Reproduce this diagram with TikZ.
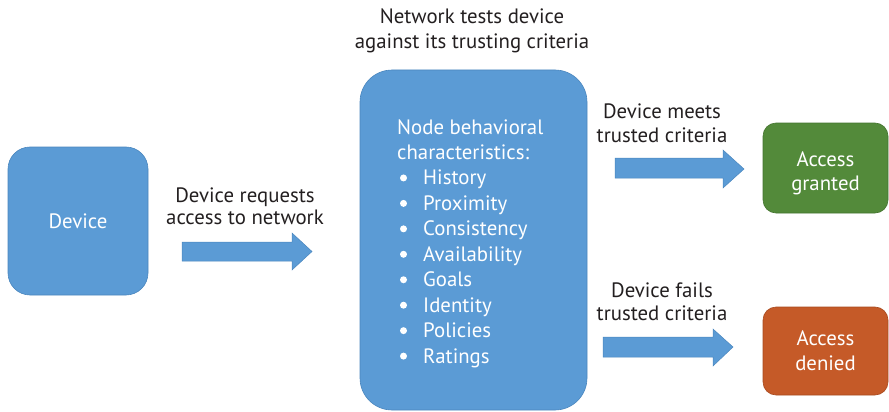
\documentclass[tikz,border=0pt]{standalone}
\usepackage{fontspec}
\setmainfont{PT Sans}
\definecolor{boxblue}{HTML}{5B9BD5}
\definecolor{blueedge}{HTML}{4A86BE}
\definecolor{okgreen}{HTML}{538A3A}
\definecolor{greenedge}{HTML}{44742F}
\definecolor{nogo}{HTML}{C55A28}
\definecolor{nogoedge}{HTML}{A84A1F}
\definecolor{ink}{HTML}{231F20}
\tikzset{
  x=1pt, y=-1pt,
  lbl/.style={text=ink, font=\fontsize{20.8}{24.5}\selectfont, align=center, inner sep=0pt},
  boxtxt/.style={text=white, font=\fontsize{20.8}{24.5}\selectfont, align=center, inner sep=0pt},
  listtxt/.style={text=white, font=\fontsize{20.8}{24}\selectfont, inner sep=0pt, anchor=base west},
  blockarrow/.style={fill=boxblue, draw=blueedge, line width=0.5pt},
}
\begin{document}
\begin{tikzpicture}
\useasboundingbox (0,0) rectangle (889,412);
% boxes
\path[fill=boxblue, draw=blueedge, line width=0.6pt, rounded corners=22pt] (8,147) rectangle (148,295);
\node[boxtxt, anchor=base] (device) at (78,228) {Device};
\path[fill=boxblue, draw=blueedge, line width=0.6pt, rounded corners=32pt] (360,70) rectangle (587,410);
\path[fill=okgreen, draw=greenedge, line width=0.6pt, rounded corners=13pt] (763,123) rectangle (888,213);
\node[boxtxt, anchor=base] (granted1) at (825.5,166) {Access};
\node[boxtxt, anchor=base] (granted2) at (825.5,190) {granted};
\path[fill=nogo, draw=nogoedge, line width=0.6pt, rounded corners=13pt] (763,307) rectangle (888,395);
\node[boxtxt, anchor=base] (denied1) at (825.5,345) {Access};
\node[boxtxt, anchor=base] (denied2) at (825.5,370) {denied};
% list
\node[listtxt] (head1) at (397,134) {Node behavioral};
\node[listtxt] (head2) at (397,159.5) {characteristics:};
\foreach \t [count=\i] in {History,Proximity,Consistency,Availability,Goals,Identity,Policies,Ratings}{
  \node[listtxt] (item\i) at (423,159.5+25.45*\i) {\t};
  \fill[white] (403.5,159.5+25.45*\i-7) circle (3.5pt);
}
% labels
\node[lbl, anchor=base] (title1) at (472,24) {Network tests device};
\node[lbl, anchor=base] (title2) at (472,49) {against its trusting criteria};
\node[lbl, anchor=base] (req1) at (245,202) {Device requests};
\node[lbl, anchor=base] (req2) at (245,224) {access to network};
\node[lbl, anchor=base] (meet1) at (662,118) {Device meets};
\node[lbl, anchor=base] (meet2) at (662,142) {trusted criteria};
\node[lbl, anchor=base] (fail1) at (662,297) {Device fails};
\node[lbl, anchor=base] (fail2) at (662,320) {trusted criteria};
% block arrows
\path[blockarrow] (182,242) -- (292,242) -- (292,233) -- (312,251.5) -- (292,270) -- (292,261) -- (182,261) -- cycle;
\path[blockarrow] (615,158) -- (723,158) -- (723,150) -- (744,169) -- (723,188) -- (723,178) -- (615,178) -- cycle;
\path[blockarrow] (603,337) -- (713,337) -- (713,329) -- (733,347) -- (713,366) -- (713,357) -- (603,357) -- cycle;
\end{tikzpicture}
\end{document}
